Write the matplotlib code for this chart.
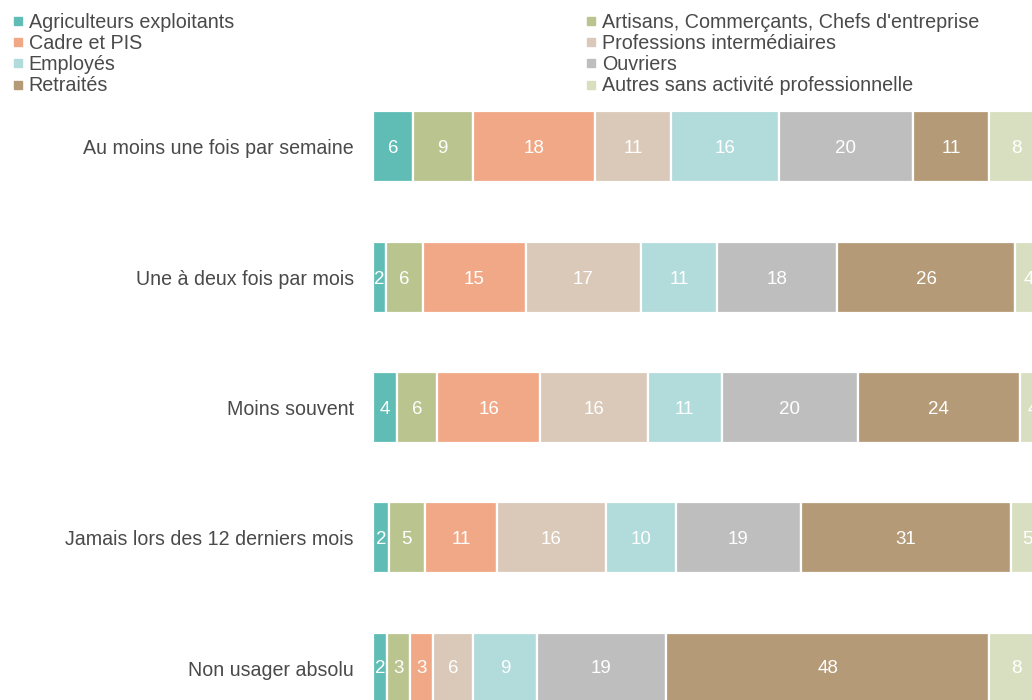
import matplotlib
matplotlib.use("Agg")
import matplotlib.pyplot as plt
from matplotlib.lines import Line2D
import numpy as np

categories = ["Au moins une fois par semaine", "Une à deux fois par mois", "Moins souvent",
              "Jamais lors des 12 derniers mois", "Non usager absolu"]
series_names = ["Agriculteurs exploitants", "Artisans, Commerçants, Chefs d'entreprise",
                "Cadre et PIS", "Professions intermédiaires", "Employés", "Ouvriers",
                "Retraités", "Autres sans activité professionnelle"]

# shares (%)
agriculteurs = [5.9, 1.9, 3.5, 2.3, 2.1]
artisans = [8.8, 5.5, 6.0, 5.4, 3.4]
cadres = [18.1, 15.2, 15.2, 10.6, 3.3]
intermediaires = [11.2, 17.0, 15.9, 16.1, 6.0]
employes = [15.9, 11.2, 10.9, 10.3, 9.4]
ouvriers = [19.9, 17.8, 20.1, 18.5, 19.1]
retraites = [11.2, 26.2, 23.9, 31.0, 47.7]
autres = [8, 4, 4, 5, 8]

# printed labels (rounded values shown on the bars)
agriculteurs_lbl = [6, 2, 4, 2, 2]
artisans_lbl = [9, 6, 6, 5, 3]
cadres_lbl = [18, 15, 16, 11, 3]
intermediaires_lbl = [11, 17, 16, 16, 6]
employes_lbl = [16, 11, 11, 10, 9]
ouvriers_lbl = [20, 18, 20, 19, 19]
retraites_lbl = [11, 26, 24, 31, 48]
autres_lbl = [8, 4, 4, 5, 8]

series_values = [agriculteurs, artisans, cadres, intermediaires, employes, ouvriers, retraites, autres]
series_labels = [agriculteurs_lbl, artisans_lbl, cadres_lbl, intermediaires_lbl, employes_lbl,
                 ouvriers_lbl, retraites_lbl, autres_lbl]
colors = ["#5fbdb6", "#b9c48f", "#f1a886", "#dac9b9", "#b2dbdb", "#bebebe", "#b59a78", "#d8dfc0"]

plt.rcParams['font.family'] = ['Liberation Sans', 'DejaVu Sans']
text_color = "#4a4a4a"

fig = plt.figure(figsize=(10.32, 7.0), dpi=100)
ax = fig.add_axes([373 / 1032, 0, 677 / 1032, 1])
y = np.arange(len(categories))
left = np.zeros(len(categories))
for name, vals, lbls, col in zip(series_names, series_values, series_labels, colors):
    vals = np.array(vals, dtype=float)
    bars = ax.barh(y, vals, left=left, height=0.545, color=col, edgecolor="white",
                   linewidth=1.6, label=name)
    texts = ax.bar_label(bars, labels=[str(v) for v in lbls], label_type="center",
                         color="white", fontsize=13.5,
                         fontfamily=['Liberation Sans Narrow', 'Liberation Sans', 'DejaVu Sans'])
    for t in texts:
        t.set_verticalalignment("center_baseline")
    left += vals

ax.set_xlim(0, 100)
ax.set_ylim(4.244, -1.128)
ax.set_yticks(y)
ax.set_yticklabels(categories, fontsize=14.1, color=text_color)
ax.tick_params(axis="y", length=0, pad=13.7)
ax.set_xticks([])
for s in ax.spines.values():
    s.set_visible(False)

handles = [Line2D([0], [0], linestyle="none", marker="s", markersize=5.8,
                  markerfacecolor=c, markeredgecolor=c) for c in colors]
col1 = [0, 2, 4, 6]
col2 = [1, 3, 5, 7]
for idx, xpos in ((col1, 8 / 1032), (col2, 581 / 1032)):
    leg = fig.legend([handles[i] for i in idx], [series_names[i] for i in idx],
                     loc="upper left", bbox_to_anchor=(xpos, 1.0 - 7.0 / 700), frameon=False,
                     fontsize=14.2, handlelength=0.45, handletextpad=0.3, labelspacing=0.11,
                     borderaxespad=0.0, borderpad=0.3)
    for t in leg.get_texts():
        t.set_color(text_color)

fig.savefig("out.png", dpi=100)
